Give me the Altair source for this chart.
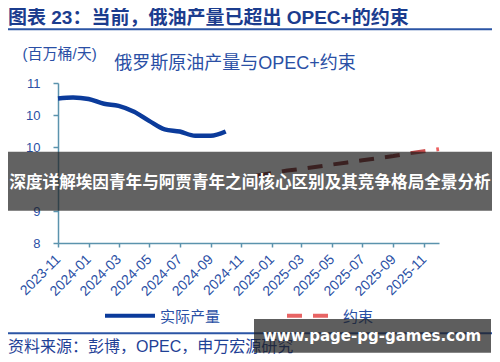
import altair as alt
import pandas as pd

# ---- data ----
act_months = ["2023-11", "2023-12", "2024-01", "2024-02", "2024-03", "2024-04",
              "2024-05", "2024-06", "2024-07", "2024-08", "2024-09", "2024-10"]
act_values = [10.71, 10.73, 10.70, 10.61, 10.57, 10.46, 10.29, 10.13, 10.09, 10.01, 10.01, 10.09]

lim_months = ["2024-12", "2025-01", "2025-02", "2025-03", "2025-04", "2025-05", "2025-06",
              "2025-07", "2025-08", "2025-09", "2025-10", "2025-11", "2025-12"]
lim_values = [9.26, 9.31, 9.36, 9.39, 9.43, 9.47, 9.51, 9.55, 9.59, 9.63, 9.68, 9.72, 9.76]

tick_months = ["2023-11", "2024-01", "2024-03", "2024-05", "2024-07", "2024-09", "2024-11",
               "2025-01", "2025-03", "2025-05", "2025-07", "2025-09", "2025-11"]
y_ticks = [8, 8.6, 9.2, 9.8, 10.4, 11]

title_text = "图表 23：当前，俄油产量已超出 OPEC+的约束"
chart_title = "俄罗斯原油产量与OPEC+约束"
unit_text = "(百万桶/天)"
legend_names = ["实际产量", "约束"]
source_text = "资料来源：彭博，OPEC，申万宏源研究"
banner_text = "深度详解埃因青年与阿贾青年之间核心区别及其竞争格局全景分析"
watermark_text = "www.page-pg-games.com"

FONT = "Liberation Sans, Noto Sans CJK SC"
CJK = "Noto Sans CJK SC"
BLUE_TXT = "#2a4fa5"
AXIS_C = "#5b93ad"


def dt(m):
    y, mo = m.split("-")
    return alt.DateTime(year=int(y), month=int(mo), date=1)


def ds(m):
    y, mo = m.split("-")
    return f"{y}/{mo}/01"


act_df = pd.DataFrame({"month": [ds(m) for m in act_months], "value": act_values})
lim_df = pd.DataFrame({"month": [ds(m) for m in lim_months], "value": lim_values})
one = pd.DataFrame({"t": [0]})

xscale = alt.Scale(domain=[dt("2023-11"), dt("2025-12")])
yscale = alt.Scale(domain=[8, 11], nice=False, zero=False)

xaxis = alt.Axis(values=[dt(m) for m in tick_months], format="%Y-%m", title=None,
                 labelAngle=-45, labelAlign="right", labelBaseline="middle",
                 labelFontSize=14, labelColor=BLUE_TXT, labelFont=FONT, labelPadding=10,
                 domainColor=AXIS_C, tickColor=AXIS_C, tickSize=4, domainWidth=1.5,
                 tickWidth=1.5, grid=False, labelOverlap=False, labelBound=False)
yaxis = alt.Axis(values=y_ticks, format=".0f", title=None, labelFontSize=13,
                 labelColor=BLUE_TXT, labelFont=FONT, labelPadding=13,
                 domainColor=AXIS_C, tickColor=AXIS_C, tickSize=5, domainWidth=1.5,
                 tickWidth=1.5, grid=False, labelOverlap=False)

X = alt.X("month:T", scale=xscale, axis=xaxis)
Y = alt.Y("value:Q", scale=yscale, axis=yaxis)

actual = alt.Chart(act_df).mark_line(color="#0b3b9b", strokeWidth=4.5, interpolate="monotone").encode(
    x=X, y=Y)

grad = alt.LinearGradient(
    gradient="linear",
    stops=[alt.GradientStop(color="#7a2626", offset=0),
           alt.GradientStop(color="#7a2626", offset=0.72),
           alt.GradientStop(color="#f06262", offset=1)],
    x1=0, x2=1, y1=0, y2=0)

limit = alt.Chart(lim_df).mark_line(stroke=grad, strokeWidth=4, strokeDash=[15, 11]).encode(
    x=X, y=Y)

# plot origin on the page is (58, 83)
OX, OY = 58, 83


def txt(s, px, py, size, color, weight="normal", align="left", font=FONT):
    return alt.Chart(one).mark_text(align=align, baseline="middle", fontSize=size,
                                    color=color, fontWeight=weight, font=font).encode(
        x=alt.value(px - OX), y=alt.value(py - OY), text=alt.value(s))


def hrule(x1, x2, py, color, width, dash=None):
    kw = dict(color=color, strokeWidth=width)
    if dash:
        kw["strokeDash"] = dash
    return alt.Chart(one).mark_rule(**kw).encode(
        x=alt.value(x1 - OX), x2=alt.value(x2 - OX), y=alt.value(py - OY))


def rect(x1, x2, y1, y2, color, opacity):
    return alt.Chart(one).mark_rect(color=color, opacity=opacity).encode(
        x=alt.value(x1 - OX), x2=alt.value(x2 - OX), y=alt.value(y1 - OY), y2=alt.value(y2 - OY))


layers = [
    actual,
    limit,
    txt(title_text, 8, 17.5, 19, "#1b3c8e", "bold"),
    hrule(7, 493, 29.3, "#2b55a5", 2),
    txt(unit_text, 22.5, 54, 15, BLUE_TXT),
    txt(chart_title, 235, 63.5, 18, BLUE_TXT, align="center"),
    hrule(105, 155, 315.7, "#0b3b9b", 4),
    txt(legend_names[0], 160, 317, 15, BLUE_TXT),
    hrule(287, 329, 315.7, "#e86464", 4, [15, 11]),
    txt(legend_names[1], 343, 317, 15, BLUE_TXT),
    hrule(7, 493, 333.3, "#2b55a5", 2),
    txt(source_text, 8, 346.5, 16, "#1f4196"),
    rect(3, 497, 151.7, 210.7, "#202020", 0.7),
    txt(banner_text, 250, 183, 16.6, "white", "bold", "center", CJK),
    rect(254, 491, 319, 352.7, "#202020", 0.72),
    txt(watermark_text, 372, 336, 15, "white", "bold", "center", "DejaVu Sans"),
]

chart = alt.layer(*layers).properties(
    width=381, height=160,
    autosize=alt.AutoSizeParams(type="none"),
    padding={"left": 50, "top": 75, "right": 53, "bottom": 111},
    background="white",
).configure_view(stroke=None)

chart.save("out.html", embed_options={"renderer": "svg", "actions": False})
